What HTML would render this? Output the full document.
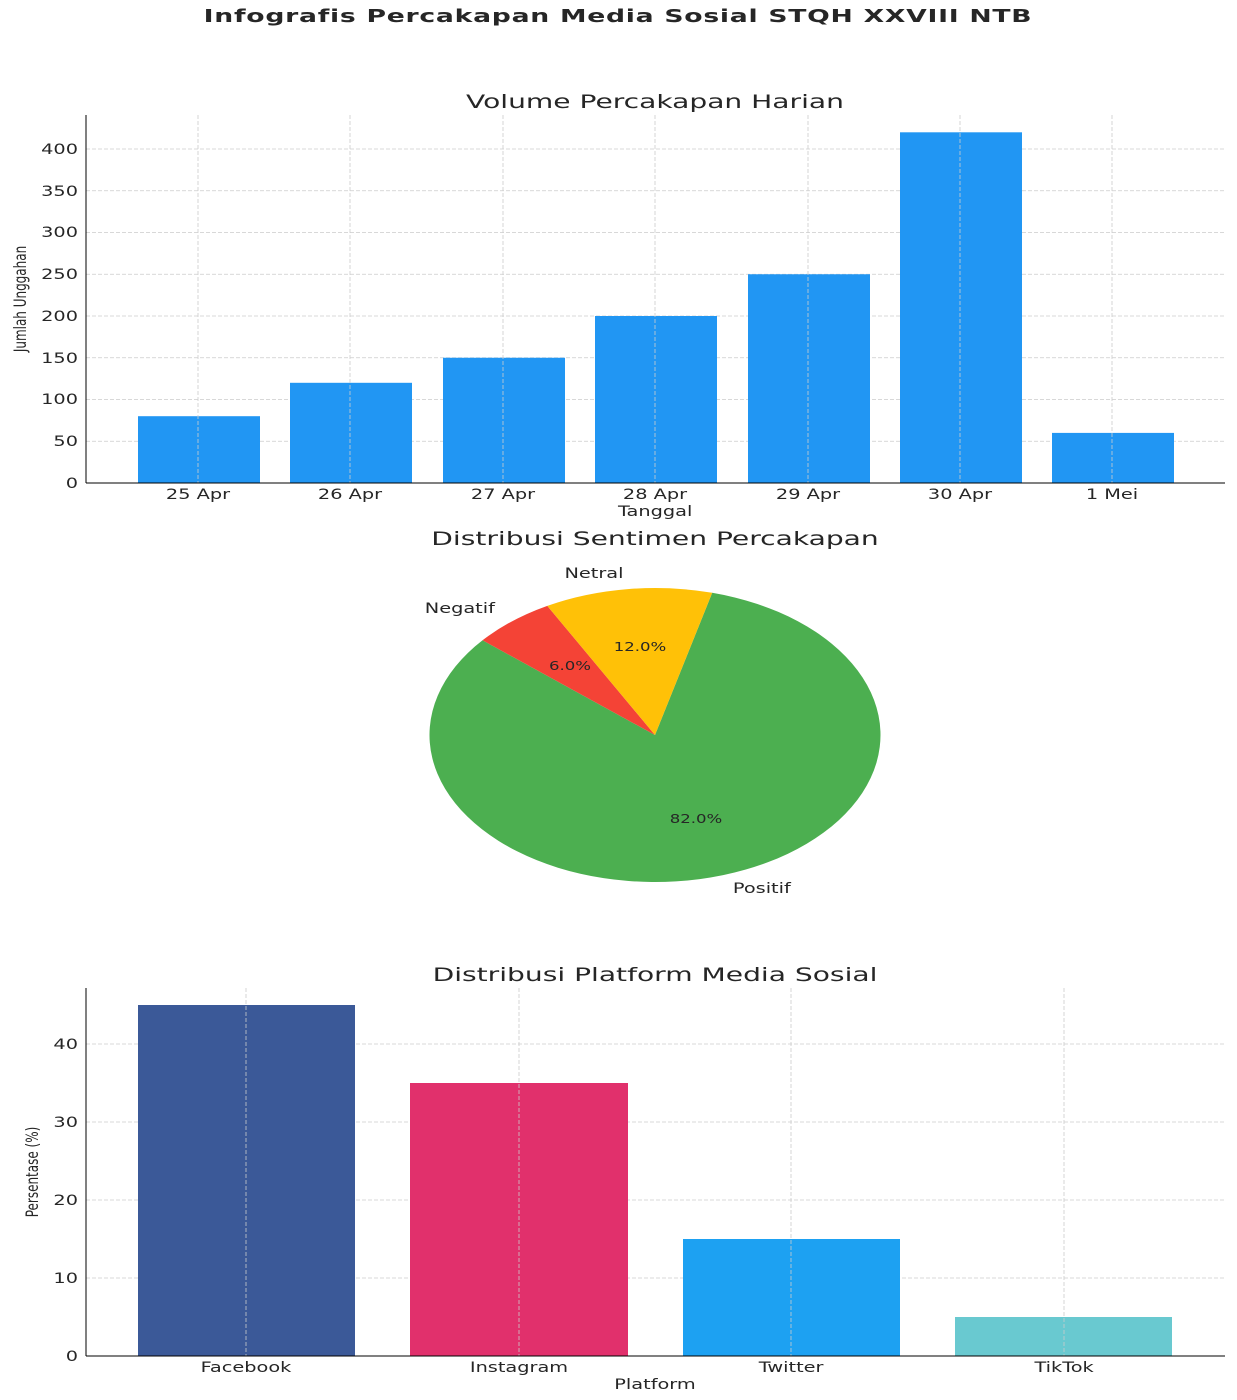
<!DOCTYPE html>
<html><head><meta charset="utf-8"><style>
html,body{margin:0;padding:0;background:#fff}
svg{display:block}
text{font-family:"DejaVu Sans","Liberation Sans",sans-serif;fill:#262626}
.t{font-size:14px}
.g{stroke:#cccccc;stroke-width:0.8;stroke-dasharray:4,2}
.sx text,text.sx{transform-box:fill-box;transform-origin:center;transform:scaleX(1.38)}
text.sxt{transform-box:fill-box;transform-origin:center;transform:scaleX(1.48)}
.se text{transform-box:fill-box;transform-origin:right;transform:scaleX(1.38)}
</style></head><body>
<svg width="1237" height="1400" viewBox="0 0 1237 1400" xmlns="http://www.w3.org/2000/svg">
<text class="sxt" x="618" y="22" text-anchor="middle" style="font-size:18px;font-weight:bold;letter-spacing:0.5px">Infografis Percakapan Media Sosial STQH XXVIII NTB</text>

<!-- Chart 1 -->
<text class="sxt" x="655" y="108" text-anchor="middle" style="font-size:19px">Volume Percakapan Harian</text>
<g>
<line class="g" x1="86" x2="1225" y1="441.25" y2="441.25"/>
<line class="g" x1="86" x2="1225" y1="399.5" y2="399.5"/>
<line class="g" x1="86" x2="1225" y1="357.75" y2="357.75"/>
<line class="g" x1="86" x2="1225" y1="316" y2="316"/>
<line class="g" x1="86" x2="1225" y1="274.25" y2="274.25"/>
<line class="g" x1="86" x2="1225" y1="232.5" y2="232.5"/>
<line class="g" x1="86" x2="1225" y1="190.75" y2="190.75"/>
<line class="g" x1="86" x2="1225" y1="149" y2="149"/>
</g>
<g fill="#2196F3">
<rect x="138" y="416.2" width="122" height="66.8"/>
<rect x="290" y="382.8" width="122" height="100.2"/>
<rect x="443" y="357.75" width="122" height="125.25"/>
<rect x="595" y="316" width="122" height="167"/>
<rect x="748" y="274.25" width="122" height="208.75"/>
<rect x="900" y="132.3" width="122" height="350.7"/>
<rect x="1052" y="432.9" width="122" height="50.1"/>
</g>
<g>
<line class="g" x1="198" x2="198" y1="115" y2="483"/>
<line class="g" x1="350" x2="350" y1="115" y2="483"/>
<line class="g" x1="503" x2="503" y1="115" y2="483"/>
<line class="g" x1="655" x2="655" y1="115" y2="483"/>
<line class="g" x1="808" x2="808" y1="115" y2="483"/>
<line class="g" x1="960" x2="960" y1="115" y2="483"/>
<line class="g" x1="1112" x2="1112" y1="115" y2="483"/>
</g>
<line x1="86" y1="115" x2="86" y2="483" stroke="#000" stroke-width="1"/>
<line x1="86" y1="483" x2="1225" y2="483" stroke="#000" stroke-width="1"/>
<g class="t se" text-anchor="end">
<text x="78" y="488">0</text><text x="78" y="446">50</text><text x="78" y="404">100</text>
<text x="78" y="363">150</text><text x="78" y="321">200</text><text x="78" y="279">250</text>
<text x="78" y="237">300</text><text x="78" y="196">350</text><text x="78" y="154">400</text>
</g>
<g class="t sx" text-anchor="middle">
<text x="198" y="499">25 Apr</text><text x="350" y="499">26 Apr</text><text x="503" y="499">27 Apr</text>
<text x="655" y="499">28 Apr</text><text x="808" y="499">29 Apr</text><text x="960" y="499">30 Apr</text>
<text x="1112" y="499">1 Mei</text>
<text x="655" y="516">Tanggal</text>
</g>
<text transform="translate(26,299) rotate(-90) scale(0.8,1.1)" text-anchor="middle" style="font-size:15px">Jumlah Unggahan</text>

<!-- Pie -->
<text class="sxt" x="655" y="545" text-anchor="middle" style="font-size:19px">Distribusi Sentimen Percakapan</text>
<g transform="translate(655,735) scale(225.5,147)">
<path d="M0,0 L0.2537,-0.9673 A1,1 0 1 1 -0.7648,-0.6443 Z" fill="#4CAF50"/>
<path d="M0,0 L-0.7648,-0.6443 A1,1 0 0 1 -0.4776,-0.8786 Z" fill="#F44336"/>
<path d="M0,0 L-0.4776,-0.8786 A1,1 0 0 1 0.2537,-0.9673 Z" fill="#FFC107"/>
</g>
<g text-anchor="middle" class="sx">
<text x="696" y="823" style="font-size:12px">82.0%</text>
<text x="640" y="651" style="font-size:12px">12.0%</text>
<text x="570" y="670" style="font-size:12px">6.0%</text>
<text x="762" y="893" class="t">Positif</text>
<text x="594" y="578" class="t">Netral</text>
<text x="460" y="613" class="t">Negatif</text>
</g>

<!-- Chart 3 -->
<text class="sxt" x="655" y="981" text-anchor="middle" style="font-size:19px">Distribusi Platform Media Sosial</text>
<g>
<line class="g" x1="86" x2="1225" y1="1278" y2="1278"/>
<line class="g" x1="86" x2="1225" y1="1200" y2="1200"/>
<line class="g" x1="86" x2="1225" y1="1122" y2="1122"/>
<line class="g" x1="86" x2="1225" y1="1044" y2="1044"/>
</g>
<rect x="138" y="1005" width="217" height="351" fill="#3B5998"/>
<rect x="410" y="1083" width="218" height="273" fill="#E1306C"/>
<rect x="683" y="1239" width="217" height="117" fill="#1DA1F2"/>
<rect x="955" y="1317" width="217" height="39" fill="#69C9D0"/>
<g>
<line class="g" x1="246" x2="246" y1="988" y2="1356"/>
<line class="g" x1="519" x2="519" y1="988" y2="1356"/>
<line class="g" x1="791" x2="791" y1="988" y2="1356"/>
<line class="g" x1="1064" x2="1064" y1="988" y2="1356"/>
</g>
<line x1="86" y1="988" x2="86" y2="1356" stroke="#000"/>
<line x1="86" y1="1356" x2="1225" y2="1356" stroke="#000"/>
<g class="t se" text-anchor="end">
<text x="78" y="1361">0</text><text x="78" y="1283">10</text><text x="78" y="1205">20</text>
<text x="78" y="1127">30</text><text x="78" y="1049">40</text>
</g>
<g class="t sx" text-anchor="middle">
<text x="246" y="1372">Facebook</text><text x="519" y="1372">Instagram</text>
<text x="791" y="1372">Twitter</text><text x="1064" y="1372">TikTok</text>
<text x="655" y="1389">Platform</text>
</g>
<text transform="translate(38,1172) rotate(-90) scale(0.8,1.1)" text-anchor="middle" style="font-size:15px">Persentase (%)</text>
</svg>
</body></html>
